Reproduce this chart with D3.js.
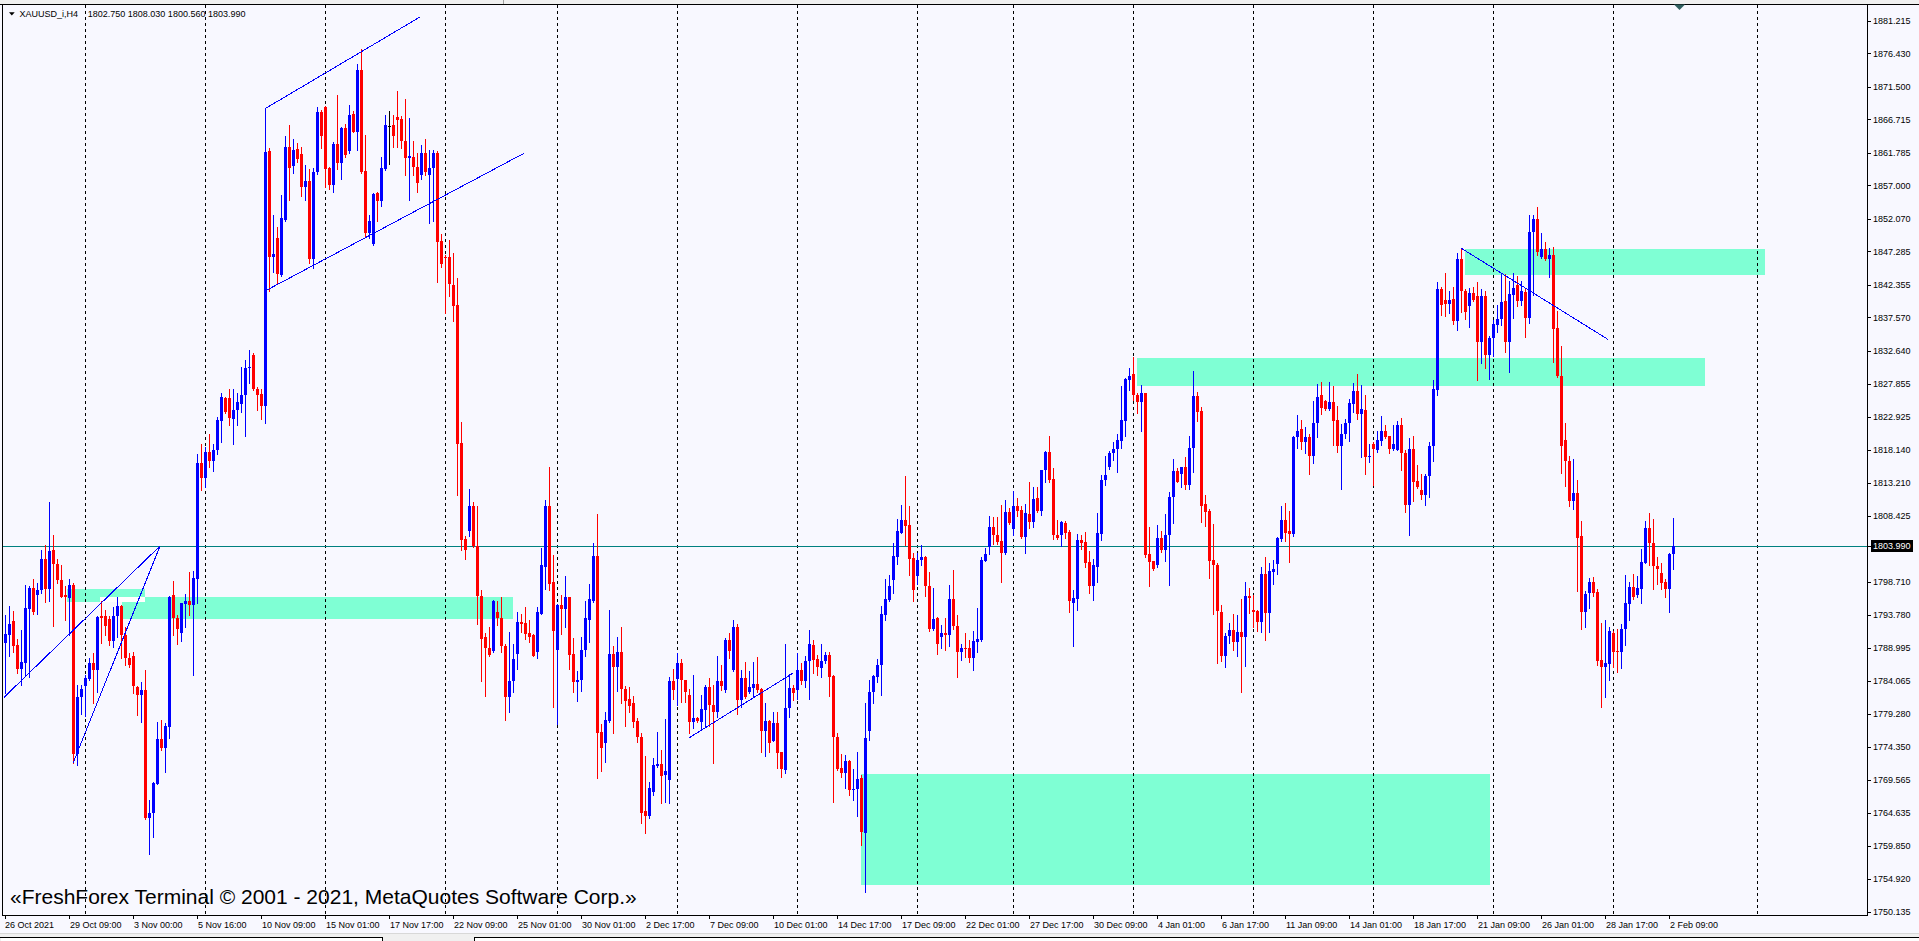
<!DOCTYPE html>
<html><head><meta charset="utf-8">
<script src="https://cdn.jsdelivr.net/npm/d3@7"></script>
<style>html,body{margin:0;padding:0;background:#F8F8FF;overflow:hidden}svg{display:block}</style>
</head><body><svg id="c" width="1919" height="941"></svg>
<script>
// ---------------- DATA (XAUUSD_i, H4) ----------------
const opens = [1789.7,1790.9,1792.9,1789.4,1785.9,1786.8,1794.7,1797.8,1796.7,1797.5,
1802.0,1797.6,1803.4,1801.3,1798.9,1796.7,1796.3,1798.2,1773.4,1781.7,
1783.3,1784.4,1786.8,1785.7,1793.6,1793.6,1793.2,1790.0,1793.6,1795.1,
1790.8,1787.4,1787.7,1783.2,1782.1,1782.7,1763.9,1764.6,1769.0,1775.6,
1774.3,1777.3,1796.7,1793.3,1791.2,1795.4,1795.9,1795.2,1799.1,1816.2,
1814.0,1817.8,1816.5,1818.0,1822.3,1825.7,1825.7,1822.7,1823.9,1824.9,
1826.1,1830.1,1832.0,1827.0,1826.3,1824.5,1862.0,1846.5,1849.2,1843.8,
1851.9,1862.6,1859.8,1862.3,1861.6,1856.7,1857.6,1846.2,1859.0,1867.8,
1868.6,1859.6,1857.1,1863.1,1860.3,1865.5,1862.1,1867.5,1864.9,1874.0,
1859.1,1850.0,1848.4,1855.9,1854.7,1859.4,1865.8,1865.9,1867.0,1866.8,
1863.6,1861.1,1861.2,1859.7,1858.5,1861.7,1858.6,1859.6,1861.7,1848.8,
1846.5,1846.5,1842.3,1839.4,1819.1,1805.0,1806.1,1809.9,1803.9,1796.6,
1790.5,1788.9,1788.5,1794.2,1793.3,1789.2,1781.7,1784.1,1788.0,1792.7,
1792.6,1791.1,1790.8,1788.4,1794.0,1800.8,1809.8,1798.6,1788.6,1795.3,
1794.7,1796.4,1788.1,1783.9,1784.2,1788.6,1793.1,1795.8,1802.5,1776.6,
1775.0,1778.2,1788.1,1786.1,1788.4,1782.9,1781.4,1780.9,1778.2,1775.9,
1764.9,1764.2,1767.8,1771.6,1771.9,1770.3,1769.5,1784.1,1784.4,1786.8,
1784.2,1782.1,1778.0,1778.7,1778.1,1779.8,1783.2,1780.6,1779.6,1784.1,
1782.8,1790.1,1785.7,1792.1,1781.3,1784.5,1782.4,1783.0,1783.7,1782.9,
1776.8,1778.2,1775.3,1777.9,1773.6,1771.0,1780.1,1783.0,1782.8,1785.7,
1784.1,1787.0,1789.4,1787.3,1786.0,1787.0,1787.9,1784.8,1775.9,1771.3,
1770.5,1772.3,1768.0,1768.2,1769.8,1761.8,1776.7,1782.4,1784.7,1786.5,
1793.8,1796.0,1798.9,1802.4,1805.9,1807.8,1807.0,1802.2,1799.5,1801.9,
1802.4,1798.1,1791.7,1793.4,1790.5,1791.2,1790.9,1796.2,1792.2,1788.3,
1788.9,1788.9,1787.5,1789.9,1790.1,1801.8,1803.8,1806.7,1805.6,1804.7,
1802.9,1808.9,1806.5,1809.8,1809.2,1805.3,1808.6,1807.5,1811.0,1809.1,
1815.1,1817.8,1813.8,1805.6,1805.6,1807.3,1806.0,1795.6,1796.2,1804.8,
1804.6,1801.6,1798.1,1800.9,1805.7,1813.6,1815.5,1817.7,1818.2,1819.4,
1822.3,1828.4,1829.2,1826.2,1825.2,1826.4,1802.7,1801.7,1801.1,1805.2,
1803.3,1805.5,1811.2,1815.0,1814.6,1815.5,1812.9,1818.3,1826.0,1823.8,
1810.2,1809.1,1801.9,1801.1,1794.3,1787.7,1790.7,1791.6,1789.9,1791.3,
1790.6,1796.6,1794.5,1794.4,1792.7,1799.8,1794.1,1800.1,1801.3,1805.0,
1807.8,1806.1,1805.7,1820.0,1821.2,1819.3,1820.0,1817.2,1822.1,1826.1,
1825.3,1824.1,1825.2,1822.5,1818.6,1820.4,1822.1,1824.8,1826.8,1823.4,
1823.9,1817.1,1819.0,1818.1,1819.4,1820.9,1820.1,1818.2,1818.1,1821.8,
1817.7,1810.0,1818.2,1813.5,1812.2,1811.5,1814.2,1818.6,1826.9,1841.7,
1840.1,1839.6,1840.3,1837.0,1846.2,1841.5,1839.3,1841.1,1840.8,1833.9,
1840.7,1832.1,1834.6,1836.5,1837.3,1840.0,1833.9,1840.9,1842.3,1840.0,
1841.3,1837.5,1850.2,1852.0,1846.4,1847.6,1846.1,1846.8,1836.0,1829.0,
1819.5,1816.4,1810.6,1811.7,1805.4,1794.3,1797.0,1798.6,1797.2,1787.2,
1786.1,1786.6,1791.1,1788.5,1788.3,1791.8,1795.4,1797.9,1796.7,1797.6,
1801.5,1806.6,1804.4,1801.0,1800.0,1798.6,1797.6,1802.75];

const highs = [1793.8,1795.1,1794.4,1790.2,1791.6,1798.2,1798.1,1799.1,1798.5,1803.4,
1804.1,1810.4,1805.6,1802.1,1801.1,1798.0,1799.1,1798.5,1783.5,1783.5,
1784.9,1787.4,1788.2,1793.6,1795.8,1794.5,1793.6,1795.0,1796.4,1795.3,
1792.1,1788.2,1788.3,1783.3,1784.0,1785.7,1766.6,1769.3,1778.1,1778.3,
1777.9,1796.6,1798.8,1793.8,1795.6,1796.9,1800.1,1800.2,1817.5,1819.0,
1818.5,1820.5,1819.0,1823.0,1826.5,1825.9,1827.1,1827.0,1826.4,1830.3,
1831.3,1832.8,1832.3,1827.4,1827.1,1862.0,1862.5,1852.6,1850.9,1855.6,
1864.3,1865.9,1863.8,1863.3,1862.6,1860.0,1859.4,1859.6,1868.6,1868.1,
1868.7,1859.7,1863.4,1870.3,1865.6,1866.1,1868.8,1868.0,1874.9,1877.0,
1864.4,1852.6,1855.9,1856.1,1861.2,1867.4,1867.9,1867.4,1870.9,1867.2,
1869.7,1866.9,1863.5,1861.7,1862.9,1863.8,1862.2,1862.2,1862.0,1849.9,
1846.8,1848.9,1847.0,1843.4,1822.2,1805.4,1812.4,1810.4,1809.9,1797.5,
1791.1,1792.0,1796.0,1795.8,1796.5,1789.5,1791.3,1789.6,1794.2,1794.0,
1795.0,1793.1,1791.0,1795.0,1803.6,1810.7,1815.5,1802.6,1795.4,1796.7,
1799.5,1796.5,1790.4,1785.6,1790.5,1795.9,1798.4,1804.4,1808.6,1777.7,
1779.5,1794.6,1789.2,1790.5,1792.1,1783.4,1783.2,1781.9,1778.7,1776.5,
1773.0,1769.3,1772.7,1776.6,1773.9,1778.5,1784.7,1785.9,1788.2,1787.3,
1784.3,1782.9,1785.0,1778.8,1782.0,1783.5,1784.5,1783.5,1787.8,1786.4,
1790.4,1791.1,1793.1,1792.5,1785.7,1786.9,1785.6,1786.9,1787.6,1783.0,
1780.8,1778.3,1779.6,1779.6,1773.7,1789.5,1785.1,1783.5,1788.2,1786.8,
1787.7,1791.6,1790.1,1787.9,1789.5,1788.4,1788.3,1784.9,1776.5,1773.4,
1773.2,1772.5,1771.2,1773.7,1770.3,1780.8,1784.2,1785.0,1787.3,1795.1,
1799.1,1799.7,1804.4,1807.9,1810.0,1814.2,1809.8,1802.9,1802.9,1804.1,
1802.5,1800.1,1797.8,1793.5,1792.3,1793.4,1798.2,1800.4,1793.8,1789.5,
1791.2,1790.1,1791.4,1794.9,1802.4,1803.6,1808.4,1808.2,1808.2,1810.0,
1810.7,1809.6,1812.0,1811.0,1809.8,1810.2,1813.4,1812.7,1812.7,1815.2,
1817.9,1820.1,1815.4,1807.8,1807.6,1807.7,1806.3,1797.5,1805.7,1805.5,
1806.0,1803.2,1802.1,1808.8,1814.4,1817.2,1817.9,1819.2,1820.4,1827.5,
1828.7,1830.2,1831.7,1826.4,1827.6,1826.5,1806.8,1801.8,1807.0,1806.2,
1808.7,1811.9,1816.8,1815.4,1815.6,1817.1,1820.2,1829.7,1826.6,1824.4,
1811.5,1809.4,1807.2,1801.5,1795.3,1791.1,1792.6,1794.0,1793.8,1796.2,
1798.6,1797.7,1796.8,1794.5,1800.8,1802.4,1801.4,1801.9,1805.3,1809.8,
1810.3,1809.1,1820.2,1823.2,1822.5,1821.5,1820.4,1825.3,1827.8,1828.1,
1825.4,1828.1,1827.5,1824.5,1821.9,1822.7,1825.6,1828.0,1829.2,1827.6,
1826.1,1819.0,1819.2,1820.8,1823.1,1821.7,1820.2,1821.7,1822.4,1822.8,
1818.1,1819.9,1820.1,1815.9,1814.6,1814.6,1819.3,1828.4,1842.8,1842.0,
1844.1,1841.5,1842.1,1847.1,1847.7,1841.7,1841.9,1842.1,1842.8,1841.7,
1841.4,1834.8,1837.2,1839.4,1844.1,1843.9,1843.0,1844.1,1843.6,1843.0,
1841.9,1852.7,1852.7,1853.8,1850.0,1848.6,1847.8,1847.9,1838.5,1833.3,
1822.1,1817.2,1816.8,1813.6,1807.7,1797.4,1799.2,1799.4,1797.6,1792.6,
1793.1,1792.0,1791.5,1791.8,1792.5,1799.7,1798.6,1799.9,1799.5,1803.5,
1807.7,1808.8,1807.9,1802.4,1801.4,1799.1,1802.9,1808.03];

const lows = [1782.3,1787.7,1788.3,1785.3,1783.5,1784.8,1784.7,1794.0,1793.9,1797.0,
1795.7,1795.9,1792.2,1798.5,1796.4,1793.1,1790.8,1772.0,1771.7,1779.3,
1779.0,1784.3,1780.9,1782.5,1789.7,1790.9,1789.4,1789.1,1790.6,1787.4,
1786.4,1786.2,1782.3,1779.1,1778.1,1763.8,1758.7,1761.2,1768.9,1774.0,
1770.7,1775.7,1790.9,1789.5,1790.0,1792.1,1793.8,1784.9,1795.5,1812.2,
1812.7,1815.5,1815.0,1817.5,1819.3,1823.5,1821.8,1819.0,1821.8,1823.7,
1820.1,1827.9,1826.9,1824.0,1822.7,1822.0,1841.4,1844.3,1842.6,1843.6,
1851.7,1854.8,1858.8,1860.5,1855.5,1854.9,1845.6,1844.9,1858.7,1862.5,
1856.8,1856.4,1856.1,1859.4,1858.0,1861.2,1861.7,1864.8,1862.2,1858.8,
1849.5,1849.2,1848.3,1851.8,1854.0,1859.2,1860.1,1862.6,1862.7,1862.5,
1858.5,1854.9,1858.5,1856.1,1857.9,1858.5,1851.5,1851.8,1842.8,1845.0,
1838.3,1840.8,1837.1,1811.4,1803.3,1802.1,1805.4,1803.8,1792.5,1784.1,
1781.9,1787.7,1788.4,1792.3,1788.3,1778.4,1779.5,1782.4,1785.9,1791.3,
1790.2,1789.8,1787.7,1787.4,1793.9,1797.6,1797.5,1780.3,1777.7,1791.0,
1792.0,1785.8,1782.4,1781.1,1782.6,1787.8,1789.9,1795.7,1769.8,1770.8,
1772.1,1778.0,1776.4,1782.6,1780.8,1777.4,1779.5,1777.3,1775.1,1763.2,
1761.8,1764.0,1767.3,1771.5,1766.1,1766.3,1766.2,1781.4,1780.6,1781.0,
1781.0,1776.4,1777.2,1778.1,1776.9,1777.4,1777.4,1772.0,1778.8,1782.8,
1782.5,1787.4,1785.5,1779.3,1780.3,1781.6,1782.3,1781.8,1782.4,1773.7,
1773.1,1773.7,1775.2,1771.3,1770.0,1770.6,1778.8,1781.3,1781.5,1783.7,
1783.2,1781.5,1785.3,1785.0,1784.7,1786.7,1781.9,1766.3,1771.0,1770.0,
1768.3,1767.3,1766.6,1764.2,1760.0,1753.0,1775.4,1780.9,1784.0,1782.0,
1793.0,1795.9,1797.1,1801.3,1805.8,1804.1,1799.7,1795.8,1798.4,1801.2,
1796.6,1791.5,1791.6,1788.1,1789.0,1788.6,1789.2,1791.8,1784.7,1787.2,
1787.6,1786.9,1785.7,1788.4,1790.0,1801.7,1802.7,1804.2,1804.3,1798.7,
1802.8,1807.2,1805.5,1808.4,1805.1,1802.9,1806.6,1806.8,1809.0,1808.5,
1813.4,1813.4,1805.0,1805.0,1803.9,1805.2,1794.3,1789.2,1794.5,1803.5,
1800.9,1797.0,1796.0,1798.6,1804.8,1812.9,1815.3,1816.6,1814.9,1818.3,
1820.2,1826.9,1825.4,1823.5,1820.9,1802.4,1798.1,1800.4,1800.9,1803.1,
1801.7,1798.2,1807.4,1813.3,1812.7,1812.4,1812.4,1814.9,1822.3,1807.5,
1806.9,1799.3,1793.9,1786.8,1787.0,1786.2,1789.7,1788.7,1787.7,1782.5,
1786.3,1794.1,1792.1,1791.4,1791.3,1790.1,1791.3,1798.3,1799.8,1804.7,
1804.7,1801.6,1805.4,1818.3,1818.2,1817.6,1814.6,1816.1,1820.0,1823.4,
1824.0,1824.0,1818.8,1817.8,1812.3,1819.9,1819.4,1823.6,1822.7,1817.1,
1814.5,1816.3,1812.9,1817.8,1818.8,1819.9,1817.6,1818.1,1818.0,1815.1,
1809.0,1805.6,1810.5,1812.5,1810.8,1810.0,1811.1,1816.5,1826.2,1837.9,
1837.8,1838.3,1836.6,1835.8,1838.4,1837.3,1836.2,1840.0,1828.3,1830.9,
1830.1,1828.5,1831.9,1835.5,1836.5,1832.5,1829.5,1837.5,1839.3,1839.4,
1834.7,1836.8,1840.9,1846.7,1846.3,1846.0,1843.5,1831.0,1828.8,1814.7,
1812.8,1809.8,1809.4,1797.4,1791.7,1792.0,1794.8,1796.6,1786.4,1780.2,
1781.7,1784.2,1786.1,1785.4,1786.0,1789.4,1793.0,1796.1,1796.5,1795.6,
1801.4,1801.1,1797.6,1798.4,1797.6,1796.4,1794.3,1800.56];

const closes = [1791.0,1792.5,1789.3,1785.9,1786.9,1794.9,1797.8,1794.3,1797.5,1802.0,
1797.6,1803.2,1801.3,1798.9,1796.5,1796.4,1798.2,1773.4,1781.7,1782.9,
1784.5,1786.8,1785.7,1793.5,1793.4,1792.2,1790.0,1793.6,1795.1,1790.8,
1787.4,1786.4,1783.3,1782.1,1782.8,1763.9,1764.7,1769.1,1775.6,1774.3,
1777.4,1796.5,1793.3,1791.7,1795.5,1795.9,1795.2,1799.2,1816.2,1814.0,
1817.8,1816.5,1818.0,1822.5,1825.8,1823.7,1822.8,1824.0,1825.2,1826.2,
1830.1,1830.3,1827.0,1826.2,1824.5,1861.9,1846.5,1846.9,1843.9,1852.2,
1862.7,1859.6,1862.2,1860.9,1856.7,1857.6,1846.2,1859.0,1867.8,1864.3,
1859.4,1857.1,1863.1,1860.3,1865.5,1861.5,1867.4,1864.9,1874.0,1858.9,
1850.0,1851.7,1855.8,1854.7,1859.6,1865.9,1865.8,1864.3,1866.6,1863.6,
1861.1,1861.3,1859.7,1857.4,1861.7,1859.0,1859.6,1861.7,1848.6,1845.4,
1846.4,1842.5,1839.2,1819.0,1804.8,1803.4,1809.9,1803.9,1796.6,1790.3,
1788.9,1787.9,1795.9,1793.3,1789.2,1781.7,1784.1,1787.3,1792.7,1792.5,
1791.0,1790.5,1787.8,1794.2,1801.2,1809.8,1798.4,1791.4,1795.3,1794.7,
1796.4,1787.9,1783.9,1784.3,1788.6,1793.3,1796.2,1802.5,1776.4,1774.2,
1778.4,1788.1,1786.1,1788.4,1782.9,1781.1,1780.4,1778.0,1775.9,1764.6,
1764.2,1768.4,1771.7,1771.9,1770.1,1770.8,1784.1,1782.8,1786.8,1784.2,
1782.5,1778.0,1778.7,1778.2,1780.0,1783.2,1780.6,1779.6,1784.1,1783.4,
1790.1,1788.5,1792.1,1781.3,1784.5,1781.8,1783.2,1783.7,1782.8,1776.8,
1778.2,1774.9,1777.9,1773.5,1771.1,1780.1,1783.0,1782.3,1785.7,1784.1,
1787.0,1789.6,1787.2,1786.2,1787.0,1787.9,1784.7,1775.8,1771.1,1770.5,
1772.3,1768.1,1768.2,1769.7,1761.9,1775.7,1782.5,1784.8,1786.5,1793.9,
1796.2,1798.1,1802.5,1806.1,1807.8,1806.9,1802.0,1797.5,1801.9,1802.3,
1798.0,1791.7,1793.2,1789.5,1791.1,1790.9,1796.2,1792.2,1788.3,1788.9,
1788.8,1787.5,1790.0,1790.3,1801.9,1802.8,1806.7,1805.6,1804.5,1802.9,
1808.9,1807.4,1809.8,1809.1,1805.3,1808.8,1807.5,1810.9,1809.1,1815.1,
1817.8,1813.7,1805.5,1805.1,1807.5,1805.9,1795.8,1796.3,1804.8,1804.4,
1801.4,1798.1,1801.1,1805.8,1813.7,1814.4,1817.7,1818.2,1819.5,1822.5,
1828.5,1829.0,1826.1,1825.2,1826.4,1802.6,1801.6,1800.6,1805.2,1803.4,
1805.6,1811.2,1815.0,1813.4,1815.5,1812.9,1818.3,1826.0,1823.7,1809.9,
1809.0,1801.8,1801.1,1794.4,1787.7,1790.7,1791.6,1789.9,1791.3,1790.6,
1796.6,1796.3,1794.3,1792.7,1799.8,1794.1,1800.3,1800.5,1805.2,1807.8,
1805.9,1805.7,1820.0,1820.8,1819.3,1820.0,1817.2,1822.1,1825.9,1824.2,
1824.1,1825.2,1822.4,1818.6,1820.4,1822.1,1825.0,1826.8,1823.4,1824.1,
1817.1,1817.2,1818.2,1819.6,1820.9,1820.0,1818.2,1818.9,1821.8,1817.6,
1810.0,1818.2,1813.4,1812.6,1811.5,1814.2,1818.7,1827.0,1841.7,1839.4,
1839.6,1840.1,1837.0,1846.2,1841.4,1838.4,1841.1,1840.2,1833.9,1840.7,
1832.1,1834.6,1836.6,1837.4,1839.9,1833.9,1841.0,1841.9,1840.0,1841.4,
1837.5,1850.2,1852.0,1847.2,1847.6,1846.1,1846.8,1835.9,1828.9,1818.7,
1816.4,1810.6,1811.7,1805.2,1794.3,1796.9,1798.6,1797.1,1787.1,1786.1,
1786.8,1791.4,1788.3,1788.3,1791.8,1795.6,1797.9,1796.5,1797.8,1801.6,
1806.6,1804.4,1801.0,1800.5,1798.5,1797.6,1802.7,1803.99];

// time axis labels (one every 16 bars)
const timeLabels = ["26 Oct 2021","29 Oct 09:00","3 Nov 00:00","5 Nov 16:00","10 Nov 09:00","15 Nov 01:00",
"17 Nov 17:00","22 Nov 09:00","25 Nov 01:00","30 Nov 01:00","2 Dec 17:00","7 Dec 09:00","10 Dec 01:00",
"14 Dec 17:00","17 Dec 09:00","22 Dec 01:00","27 Dec 17:00","30 Dec 09:00","4 Jan 01:00","6 Jan 17:00",
"11 Jan 09:00","14 Jan 01:00","18 Jan 17:00","21 Jan 09:00","26 Jan 01:00","28 Jan 17:00","2 Feb 09:00"];
const labelStep = 16;

// price axis labels
const priceTicks = [1881.215,1876.430,1871.500,1866.715,1861.785,1857.000,1852.070,1847.285,1842.355,
1837.570,1832.640,1827.855,1822.925,1818.140,1813.210,1808.425,1798.710,1793.780,1788.995,1784.065,
1779.280,1774.350,1769.565,1764.635,1759.850,1754.920,1750.135];

// weekly period separators (bar index of first bar of week)
const separatorBars = [20,50,80,110,138,168,198,228,252,282,312,342,372,402,438];

const symbolName = "XAUUSD_i,H4";
const currentPrice = 1803.99;
const watermark = "\u00ABFreshForex Terminal \u00A9 2001 - 2021, MetaQuotes Software Corp.\u00BB";

// rectangles: bar range and price range
const zones = [
  {b0:29.1, b1:126.9, p0:1796.40, p1:1793.21, kind:"zone"},
  {b0:15.35,b1:34.9,  p0:1797.62, p1:1795.75, kind:"zone"},
  {b0:23.7, b1:34.9,  p0:1796.40, p1:1795.75, kind:"gap"},
  {b0:214.0,b1:371.05,p0:1770.41, p1:1754.09, kind:"zone"},
  {b0:282.9,b1:424.9, p0:1831.65, p1:1827.49, kind:"zone"},
  {b0:364.9,b1:439.9, p0:1847.64, p1:1843.82, kind:"zone"}
];
// trend lines: [bar, price] points
const trendLines = [
  [[-0.4,1781.64],[38.675,1803.95]],
  [[17.0,1772.07],[38.675,1803.95]],
  [[103.63,1881.76],[65.1,1868.34],[65.1,1841.51],[129.63,1861.71]],
  [[171.0,1775.75],[196.85,1785.22]],
  [[364.0,1847.75],[400.68,1834.34]]
];

// ---------------- DRAW ----------------
const W = 1919, H = 941;
const P = {left:3, right:1867, top:5, bottom:915};
const BG = "#F8F8FF";
const FONT = "'Liberation Sans', Arial, sans-serif";
const n = Math.min(opens.length, highs.length, lows.length, closes.length);

const svg = d3.select("#c");
const x = d3.scaleLinear().domain([0, 417]).range([5.3, 1673.3]);
const y = d3.scaleLinear().domain([1750.135, 1881.215]).range([911.8, 20.8]);

svg.append("rect").attr("width", W).attr("height", H).attr("fill", BG);
// top strip
svg.append("rect").attr("x",0).attr("y",0).attr("width",W).attr("height",4).attr("fill","#F0F0F0");
svg.append("line").attr("x1",503.5).attr("x2",503.5).attr("y1",0).attr("y2",4).attr("stroke","#A0A0A0");

svg.append("defs").append("clipPath").attr("id","plotclip").append("rect")
  .attr("x",P.left).attr("y",P.top).attr("width",P.right-P.left).attr("height",P.bottom-P.top);

const plot = svg.append("g").attr("clip-path","url(#plotclip)").attr("shape-rendering","crispEdges");

// zones
plot.selectAll("rect.zone").data(zones).join("rect").attr("class","zone")
  .attr("x", d => Math.round(x(d.b0)))
  .attr("width", d => Math.round(x(d.b1)) - Math.round(x(d.b0)))
  .attr("y", d => Math.round(y(d.p0)))
  .attr("height", d => Math.round(y(d.p1)) - Math.round(y(d.p0)))
  .attr("fill", d => d.kind === "gap" ? "#FFFFFF" : "#7FFFD4");

// separators
plot.selectAll("line.sep").data(separatorBars).join("line").attr("class","sep")
  .attr("x1", d => Math.round(x(d)) + 0.5).attr("x2", d => Math.round(x(d)) + 0.5)
  .attr("y1", P.top).attr("y2", P.bottom)
  .attr("stroke", "#000").attr("stroke-width", 1).attr("stroke-dasharray", "3,3");

// current price line
const cy = Math.round(y(currentPrice)) + 0.5;
plot.append("line").attr("x1",P.left).attr("x2",P.right).attr("y1",cy).attr("y2",cy)
  .attr("stroke","#008080").attr("stroke-width",1);

// candles
const bars = d3.range(n).map(i => ({i, o:opens[i], h:highs[i], l:lows[i], c:closes[i]}));
const col = d => d.c > d.o ? "#0000FF" : (d.c < d.o ? "#FF0000" : "#000000");
plot.selectAll("rect.wick").data(bars).join("rect").attr("class","wick")
  .attr("x", d => Math.round(x(d.i))).attr("width", 1)
  .attr("y", d => Math.round(y(d.h)))
  .attr("height", d => Math.max(1, Math.round(y(d.l)) - Math.round(y(d.h)) + 1))
  .attr("fill", col);
plot.selectAll("rect.body").data(bars).join("rect").attr("class","body")
  .attr("x", d => Math.round(x(d.i)) - 1).attr("width", 3)
  .attr("y", d => Math.round(y(Math.max(d.o, d.c))))
  .attr("height", d => Math.max(1, Math.round(y(Math.min(d.o, d.c))) - Math.round(y(Math.max(d.o, d.c)))))
  .attr("fill", col);

// trend lines
const lineGen = d3.line().x(d => x(d[0])).y(d => y(d[1]));
plot.selectAll("path.tl").data(trendLines).join("path").attr("class","tl")
  .attr("d", lineGen).attr("fill","none").attr("stroke","#0000FF").attr("stroke-width",1);

// frame
const fr = svg.append("g").attr("shape-rendering","crispEdges").attr("stroke","#000").attr("fill","none");
fr.append("line").attr("x1",0).attr("x2",W).attr("y1",4.5).attr("y2",4.5);
fr.append("line").attr("x1",2.5).attr("x2",2.5).attr("y1",4.5).attr("y2",P.bottom+0.5);
fr.append("line").attr("x1",P.right+0.5).attr("x2",P.right+0.5).attr("y1",4.5).attr("y2",P.bottom+0.5);
fr.append("line").attr("x1",2.5).attr("x2",P.right+0.5).attr("y1",P.bottom+0.5).attr("y2",P.bottom+0.5);

// price axis
const ax = svg.append("g");
ax.selectAll("line.pt").data(priceTicks.concat([currentPrice])).join("line").attr("class","pt")
  .attr("shape-rendering","crispEdges")
  .attr("x1",P.right+1).attr("x2",P.right+4)
  .attr("y1", d => Math.round(y(d)) + 0.5).attr("y2", d => Math.round(y(d)) + 0.5)
  .attr("stroke","#000");
ax.selectAll("text.pl").data(priceTicks).join("text").attr("class","pl")
  .attr("x", 1873).attr("y", d => y(d) + 3.2)
  .attr("font-family", FONT).attr("font-size", "9px").attr("fill", "#000")
  .text(d => d.toFixed(3));
ax.append("rect").attr("x",1871).attr("y",Math.round(y(currentPrice))-6).attr("width",42).attr("height",12).attr("fill","#000");
ax.append("text").attr("x",1873).attr("y",y(currentPrice)+3.2)
  .attr("font-family",FONT).attr("font-size","9px").attr("fill","#FFF").text(currentPrice.toFixed(3));

// time axis
const tx = svg.append("g");
tx.selectAll("line.tt").data(timeLabels).join("line").attr("class","tt").attr("shape-rendering","crispEdges")
  .attr("x1", (d,k) => Math.round(x(k*labelStep)) + 0.5).attr("x2", (d,k) => Math.round(x(k*labelStep)) + 0.5)
  .attr("y1", P.bottom+1).attr("y2", P.bottom+4).attr("stroke","#000");
tx.selectAll("text.tl").data(timeLabels).join("text").attr("class","tl")
  .attr("x", (d,k) => Math.round(x(k*labelStep)) + (k===0 ? 0 : 1)).attr("y", 928)
  .attr("font-family", FONT).attr("font-size", "9px").attr("fill", "#000").text(d => d);

// header
svg.append("path").attr("d","M9,12.3 L14.7,12.3 L11.85,15.6 Z").attr("fill","#000");
svg.append("text").attr("x",19.6).attr("y",17.4).attr("font-family",FONT).attr("font-size","9px").attr("fill","#000")
  .text(symbolName);
svg.append("text").attr("x",87.8).attr("y",17.4).attr("font-family",FONT).attr("font-size","9px").attr("fill","#000")
  .text([opens[n-1], highs[n-1], lows[n-1], closes[n-1]].map(v => v.toFixed(3)).join(" "));

// shift marker
svg.append("path").attr("d","M1674,4.5 L1685,4.5 L1679.5,10 Z").attr("fill","#2F5F5F");

// watermark
svg.append("text").attr("x",10).attr("y",903.5).attr("font-family",FONT).attr("font-size","21px").attr("fill","#000")
  .text(watermark);

// bottom chrome
const bc = svg.append("g").attr("shape-rendering","crispEdges");
bc.append("rect").attr("x",0).attr("y",933).attr("width",W).attr("height",8).attr("fill","#F0F0F0");
bc.append("line").attr("x1",0).attr("x2",W).attr("y1",933.5).attr("y2",933.5).attr("stroke","#D8D8D8");
bc.append("rect").attr("x",1).attr("y",937).attr("width",381).attr("height",4).attr("fill","#FFF");
bc.append("rect").attr("x",474).attr("y",937).attr("width",W-474).attr("height",4).attr("fill","#FFF");
bc.append("line").attr("x1",0).attr("x2",382).attr("y1",937.5).attr("y2",937.5).attr("stroke","#000");
bc.append("line").attr("x1",474).attr("x2",W).attr("y1",937.5).attr("y2",937.5).attr("stroke","#000");
bc.append("line").attr("x1",382.5).attr("x2",382.5).attr("y1",937).attr("y2",941).attr("stroke","#000");
bc.append("line").attr("x1",474.5).attr("x2",474.5).attr("y1",937).attr("y2",941).attr("stroke","#000");
</script>
</body></html>
